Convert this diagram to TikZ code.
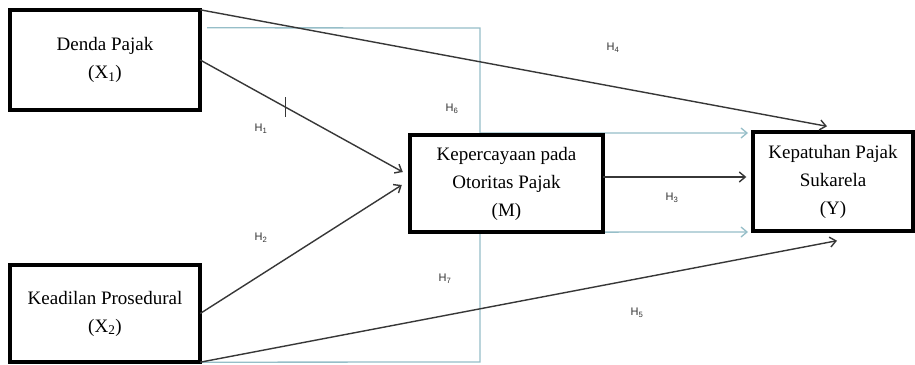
\documentclass[tikz,border=0pt]{standalone}
\usepackage{fontspec}
\setmainfont{Liberation Serif}
\newfontfamily\hfont{Liberation Sans}
\usetikzlibrary{arrows.meta}
\definecolor{lblue}{RGB}{150,190,200}
\definecolor{dline}{RGB}{55,55,55}
\tikzset{
  varbox/.style={draw=black,line width=3.4pt,fill=white,align=center,inner sep=0pt,
    font=\fontsize{19}{28}\selectfont},
  arr/.style={draw=dline,line width=1.4pt,-{Straight Barb[length=6pt,width=10pt]}},
  bline/.style={draw=lblue,line width=1.3pt,-{Straight Barb[length=6pt,width=10pt]}},
  hlab/.style={font=\hfont\fontsize{11}{13}\selectfont,text=black!80,inner sep=0pt}
}
\begin{document}
\begin{tikzpicture}[x=1pt,y=-1pt]
\useasboundingbox (0,0) rectangle (915,364);
\fill[white] (0,0) rectangle (915,364);
% geometry of the boxes (drawn on top later)
\path (105,60) node[minimum width=190pt,minimum height=100pt,inner sep=0pt] (x1) {};
\path (105,313.5) node[minimum width=190pt,minimum height=97pt,inner sep=0pt] (x2) {};
\path (506.5,183.5) node[minimum width=193pt,minimum height=97pt,inner sep=0pt] (m) {};
\coordinate (vt) at (480,28);
\coordinate (vb) at (480,362);
% light blue paths
\draw[bline] ([shift={(7pt,-18pt)}]x1.north east) -- (vt) -- (vt |- 0,133) -- (748,133);
\draw[bline] (x2.south east) -- (vb) -- (vb |- m.south) -- (748,232);
% boxes
\node[varbox,minimum width=190pt,minimum height=100pt] at (x1) {Denda Pajak\\(X\textsubscript{1})};
\node[varbox,minimum width=190pt,minimum height=97pt] at (x2) {Keadilan Prosedural\\(X\textsubscript{2})};
\node[varbox,minimum width=193pt,minimum height=97pt] at (m) {Kepercayaan pada\\Otoritas Pajak\\(M)};
\node[varbox,minimum width=160pt,minimum height=99pt] (y) at (833,181.5) {Kepatuhan Pajak\\Sukarela\\(Y)};
% black arrows
\draw[arr] (x1.north east) -- ([shift={(-6pt,4pt)}]y.north);
\draw[arr] (x1.east) -- coordinate[pos=0.42] (tk) ([shift={(-7pt,11.5pt)}]m.west);
\draw[dline,line width=1.4pt] ([yshift=10pt]tk) -- ([yshift=-10pt]tk);
\draw[arr] (x2.east) -- ([shift={(-8pt,-1.5pt)}]m.west);
\draw[arr] (x2.south east) -- ([shift={(4pt,-8pt)}]y.south);
\draw[arr] ([yshift=6.5pt]m.east) -- ([shift={(-5pt,6.5pt)}]m.east -| y.west);
% labels
\node[hlab] (h1) at (261,129) {H\textsubscript{1}};
\node[hlab] (h2) at (261,238) {H\textsubscript{2}};
\node[hlab] (h6) at (452,109) {H\textsubscript{6}};
\node[hlab] (h7) at (445,279) {H\textsubscript{7}};
\node[hlab] (h4) at (613,48) {H\textsubscript{4}};
\node[hlab] (h3) at (672,198) {H\textsubscript{3}};
\node[hlab] (h5) at (637,313) {H\textsubscript{5}};
\end{tikzpicture}
\end{document}
